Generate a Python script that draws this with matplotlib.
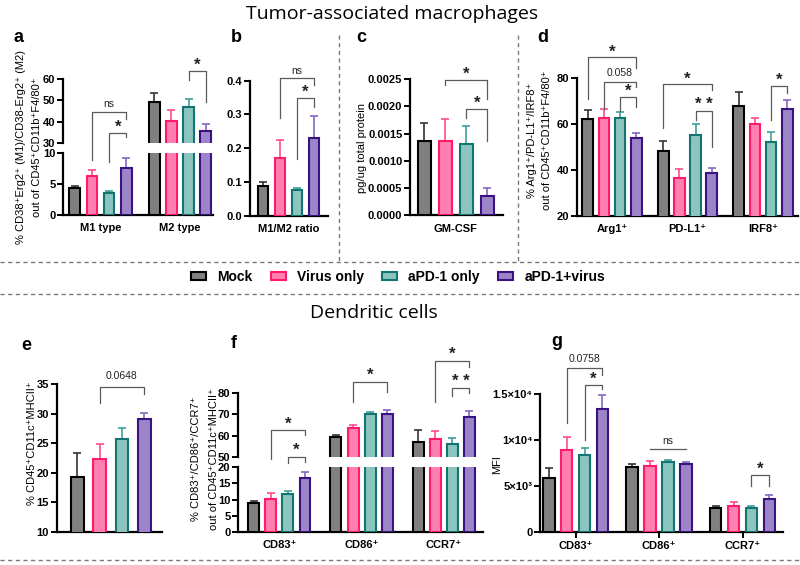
import matplotlib
matplotlib.use('Agg')
import matplotlib.pyplot as plt
import numpy as np
from matplotlib.transforms import Affine2D, blended_transform_factory
from matplotlib.patches import Patch
from matplotlib.lines import Line2D
from matplotlib.ticker import FormatStrFormatter

plt.rcParams['font.family'] = ['Liberation Sans', 'DejaVu Sans']
plt.rcParams['font.weight'] = 'bold'

# ---------------- data ----------------
groups = ['Mock', 'Virus only', 'aPD-1 only', 'aPD-1+virus']

a_cats = ['M1 type', 'M2 type']
a_mean = [[4.3, 49.1], [6.2, 40.3], [3.5, 46.9], [7.6, 35.7]]
a_err = [[0.4, 4.5], [1.0, 5.2], [0.3, 3.9], [1.5, 3.0]]

b_cats = ['M1/M2 ratio']
b_mean = [[0.088], [0.172], [0.075], [0.231]]
b_err = [[0.011], [0.051], [0.006], [0.064]]

c_cats = ['GM-CSF']
c_mean = [[0.00137], [0.00137], [0.00131], [0.00035]]
c_err = [[0.00033], [0.00040], [0.00032], [0.00015]]

d_cats = ['Arg1⁺', 'PD-L1⁺', 'IRF8⁺']
d_mean = [[62.0, 48.3, 67.6], [62.3, 36.5, 60.0], [62.3, 55.0, 51.9], [53.9, 38.7, 66.4]]
d_err = [[3.8, 4.1, 6.4], [4.1, 3.9, 2.5], [2.6, 4.7, 4.3], [2.0, 1.9, 3.8]]

e_cats = ['']
e_mean = [[19.3], [22.3], [25.8], [29.15]]
e_err = [[4.0], [2.5], [1.8], [0.95]]

f_cats = ['CD83⁺', 'CD86⁺', 'CCR7⁺']
f_mean = [[8.9, 59.2, 57.1], [10.1, 63.6, 58.2], [11.65, 70.1, 55.8], [16.8, 70.4, 69.0]]
f_err = [[0.7, 1.1, 5.4], [1.9, 1.4, 4.1], [1.15, 1.2, 3.2], [1.65, 1.7, 2.8]]

g_cats = ['CD83⁺', 'CD86⁺', 'CCR7⁺']
g_mean = [[5870, 7140, 2610], [8950, 7250, 2900], [8370, 7610, 2610], [13370, 7460, 3620]]
g_err = [[1090, 290, 290], [1450, 540, 360], [830, 250, 220], [1520, 220, 400]]
g_ticklabels = ['0', '5×10³', '1×10⁴', '1.5×10⁴']

# ---------------- style ----------------
fills = ['#808080', '#FF80B0', '#8CC5C0', '#9C84C8']
edges = ['#000000', '#FF1A6C', '#117571', '#3B1282']
errc = ['#333333', '#FF4D8A', '#3E9E99', '#8467C0']
BR = '#5a5a5a'

W, H = 800, 565
fig = plt.figure(figsize=(W / 100, H / 100), dpi=100)
PIX = Affine2D().scale(1 / W, -1 / H).translate(0, 1) + fig.transFigure


def add_ax(x0, x1, ytop, ybot):
    return fig.add_axes([x0 / W, 1 - ybot / H, (x1 - x0) / W, (ybot - ytop) / H])


def style(ax, bottom=True, xticklen=0):
    for s in ['top', 'right']:
        ax.spines[s].set_visible(False)
    ax.spines['left'].set_linewidth(1.6)
    ax.spines['bottom'].set_linewidth(1.6)
    ax.spines['bottom'].set_visible(bottom)
    ax.tick_params(axis='y', length=4, width=1.4, labelsize=8, pad=1.5)
    ax.tick_params(axis='x', length=xticklen, width=1.4, labelsize=8,
                   pad=(6 if xticklen == 0 else 2.5))
    ax.patch.set_alpha(0)


def draw(axs, means, errs, cats, G, width, xlim):
    means = np.asarray(means, float)
    errs = np.asarray(errs, float)
    ncat = means.shape[1]
    pos = np.arange(ncat)[None, :] * G + (np.arange(4)[:, None] - 1.5)
    for ax in axs:
        for j in range(4):
            ax.bar(pos[j], means[j], width=width, color=fills[j], edgecolor=edges[j],
                   linewidth=1.5, zorder=3)
            ax.errorbar(pos[j], means[j], yerr=[np.zeros(ncat), errs[j]], fmt='none',
                        ecolor=errc[j], elinewidth=1.2, capsize=2.8, capthick=1.2, zorder=2)
        ax.set_xlim(xlim)
        ax.set_xticks(np.arange(ncat) * G)
        ax.set_xticklabels([])
    axs[0].set_xticklabels(cats)
    return pos


def bracket(ax, x1, x2, ytop, yl, yr, text, ty, size=12, weight='bold'):
    tr = blended_transform_factory(ax.transData, PIX)
    if yl is None:
        xs, ys = [x1, x2], [ytop, ytop]
    else:
        xs, ys = [x1, x1, x2, x2], [yl, ytop, ytop, yr]
    fig.add_artist(Line2D(xs, ys, transform=tr, color=BR, lw=0.9))
    fig.text((x1 + x2) / 2, ty, text, transform=tr, ha='center', va='center',
             fontsize=size, fontweight=weight, color='#222222')


def ylab(x, y, s):
    fig.text(x / W, 1 - y / H, s, rotation=90, ha='center', va='center',
             fontsize=8, fontweight='normal')


# ---------------- panel a (broken axis) ----------------
a_lo = add_ax(63, 213, 152.7, 215)
a_hi = add_ax(63, 213, 79.3, 142.7)
pa = draw([a_lo, a_hi], a_mean, a_err, a_cats, 4.62, 0.62, (-2.18, 6.54))
a_lo.set_ylim(0, 10); a_lo.set_yticks([0, 5, 10])
a_hi.set_ylim(30, 60); a_hi.set_yticks([30, 40, 50, 60])
style(a_lo); style(a_hi, bottom=False)
a_hi.tick_params(axis='x', labelbottom=False)
ylab(21, 147, '% CD38⁺Erg2⁺ (M1)/CD38-Erg2⁺ (M2)')
ylab(37.5, 147, 'out of CD45⁺CD11b⁺F4/80⁺')
bracket(a_lo, pa[1, 0], pa[3, 0], 112, 160, 119, 'ns', 104, size=7.5, weight='normal')
bracket(a_lo, pa[2, 0], pa[3, 0], 132.7, 161.7, 137.3, '*', 127.5)
bracket(a_lo, pa[2, 1], pa[3, 1], 70.7, 80, 101.7, '*', 65)

# ---------------- panel b ----------------
b_ax = add_ax(250, 328, 80.7, 215.7)
pb = draw([b_ax], b_mean, b_err, b_cats, 4.7, 0.63, (-2.26, 2.32))
b_ax.set_ylim(0, 0.4); b_ax.set_yticks([0, 0.1, 0.2, 0.3, 0.4])
b_ax.yaxis.set_major_formatter(FormatStrFormatter('%.1f'))
style(b_ax)
bracket(b_ax, pb[1, 0], pb[3, 0], 78.3, 118.3, 85, 'ns', 70.5, size=7.5, weight='normal')
bracket(b_ax, pb[2, 0], pb[3, 0], 97.7, 159.3, 106.7, '*', 92)

# ---------------- panel c ----------------
c_ax = add_ax(410, 502.7, 79, 215.3)
pc = draw([c_ax], c_mean, c_err, c_cats, 4.7, 0.6, (-2.18, 2.23))
c_ax.set_ylim(0, 0.0025); c_ax.set_yticks([0, 0.0005, 0.001, 0.0015, 0.002, 0.0025])
c_ax.yaxis.set_major_formatter(FormatStrFormatter('%.4f'))
style(c_ax)
ylab(362, 147.5, 'pg/ug total protein')
bracket(c_ax, pc[1, 0], pc[3, 0], 80, 85.3, 99.3, '*', 74)
bracket(c_ax, pc[2, 0], pc[3, 0], 109.3, 117.7, 141, '*', 103.5)

# ---------------- panel d ----------------
d_ax = add_ax(577, 798, 77.7, 215.7)
pd_ = draw([d_ax], d_mean, d_err, d_cats, 4.66, 0.66, (-2.16, 11.48))
d_ax.set_ylim(20, 80); d_ax.set_yticks([20, 40, 60, 80])
style(d_ax)
ylab(532, 140, '% Arg1⁺/PD-L1⁺/IRF8⁺')
ylab(547, 140, 'out of CD45⁺CD11b⁺F4/80⁺')
bracket(d_ax, pd_[0, 0], pd_[3, 0], 57, 99, 68, '*', 52)
bracket(d_ax, pd_[1, 0], pd_[3, 0], 81.7, 109.3, 87.3, '0.058', 73, size=7.5, weight='normal')
bracket(d_ax, pd_[2, 0], pd_[3, 0], 96.7, 111, 107.3, '*', 91)
bracket(d_ax, pd_[0, 1], pd_[3, 1], 84.3, 128.3, 90, '*', 79)
bracket(d_ax, pd_[2, 1], pd_[3, 1], 110.7, 120, 146.7, '* *', 104.5)
bracket(d_ax, pd_[2, 2], pd_[3, 2], 86, 120, 92.7, '*', 80.5)

# ---------------- panel e ----------------
e_ax = add_ax(56.7, 161.7, 384.3, 531.7)
pe = draw([e_ax], e_mean, e_err, e_cats, 4.7, 0.57, (-2.41, 2.27))
e_ax.set_ylim(10, 35); e_ax.set_yticks([10, 15, 20, 25, 30, 35])
style(e_ax)
ylab(32, 443, '% CD45⁺CD11c⁺MHCII⁺')
bracket(e_ax, pe[1, 0], pe[3, 0], 386.7, 402.7, 394, '0.0648', 376, size=7.5, weight='normal')

# ---------------- panel f (broken axis) ----------------
f_lo = add_ax(238, 483, 467.3, 532)
f_hi = add_ax(238, 483, 393.3, 456.7)
pf = draw([f_lo, f_hi], f_mean, f_err, f_cats, 4.81, 0.64, (-2.42, 11.91))
f_lo.set_ylim(0, 20); f_lo.set_yticks([0, 5, 10, 15, 20])
f_hi.set_ylim(50, 80); f_hi.set_yticks([50, 60, 70, 80])
style(f_lo); style(f_hi, bottom=False)
f_hi.tick_params(axis='x', labelbottom=False)
ylab(196, 459, '% CD83⁺/CD86⁺/CCR7⁺')
ylab(214, 459, 'out of CD45⁺CD11c⁺MHCII⁺')
bracket(f_lo, pf[1, 0], pf[3, 0], 430, 459.3, 435, '*', 424.5)
bracket(f_lo, pf[2, 0], pf[3, 0], 456.7, 463.3, 461.7, '*', 450.5)
bracket(f_lo, pf[1, 1], pf[3, 1], 381.7, 401.7, 391.7, '*', 375.5)
bracket(f_lo, pf[1, 2], pf[3, 2], 360.7, 401.7, 366.7, '*', 354.5)
bracket(f_lo, pf[2, 2], pf[3, 2], 388.3, 396, 392.7, '* *', 382)

# ---------------- panel g ----------------
g_ax = add_ax(540, 783, 394.3, 532.3)
pg = draw([g_ax], g_mean, g_err, g_cats, 4.66, 0.64, (-1.99, 11.58))
g_ax.set_ylim(0, 15000); g_ax.set_yticks([0, 5000, 10000, 15000])
g_ax.set_yticklabels(g_ticklabels)
style(g_ax, xticklen=4)
ylab(497.5, 465, 'MFI')
bracket(g_ax, pg[1, 0], pg[3, 0], 368.3, 423.3, 375, '0.0758', 359, size=7.5, weight='normal')
bracket(g_ax, pg[2, 0], pg[3, 0], 385, 440, 389.3, '*', 379.5)
bracket(g_ax, pg[1, 1], pg[3, 1], 449.3, None, None, 'ns', 441, size=7.5, weight='normal')
bracket(g_ax, pg[2, 2], pg[3, 2], 475.3, 486, 486, '*', 469.5)

# ---------------- titles, panel letters, separators ----------------
fig.text(392 / W, 1 - 14 / H, 'Tumor-associated macrophages', ha='center', va='center',
         fontsize=14, fontweight='normal', family=['Open Sans', 'DejaVu Sans'])
fig.text(374 / W, 1 - 313 / H, 'Dendritic cells', ha='center', va='center',
         fontsize=14, fontweight='normal', family=['Open Sans', 'DejaVu Sans'])
for lab, x, y in [('a', 19, 38), ('b', 236, 38), ('c', 361, 38), ('d', 543, 38),
                  ('e', 26, 345), ('f', 234, 343), ('g', 557, 342)]:
    fig.text(x / W, 1 - y / H, lab, ha='center', va='center', fontsize=13, fontweight='bold')

dash = dict(color='#777777', lw=1.0, linestyle=(0, (3, 2.5)), transform=PIX)
for y in [262, 294, 560]:
    fig.add_artist(Line2D([0, W], [y, y], **dash))
for x in [339, 518]:
    fig.add_artist(Line2D([x, x], [35, 262], **dash))

# ---------------- legend ----------------
handles = [Patch(facecolor=fills[j], edgecolor=edges[j], linewidth=1.5) for j in range(4)]
fig.legend(handles, groups, loc='center', bbox_to_anchor=(398 / W, 1 - 277 / H), ncol=4,
           frameon=False, prop={'weight': 'bold', 'size': 10}, handlelength=1.1,
           handleheight=0.55, handletextpad=0.8, columnspacing=1.3, borderaxespad=0,
           borderpad=0)

fig.savefig('out.png', dpi=100)
